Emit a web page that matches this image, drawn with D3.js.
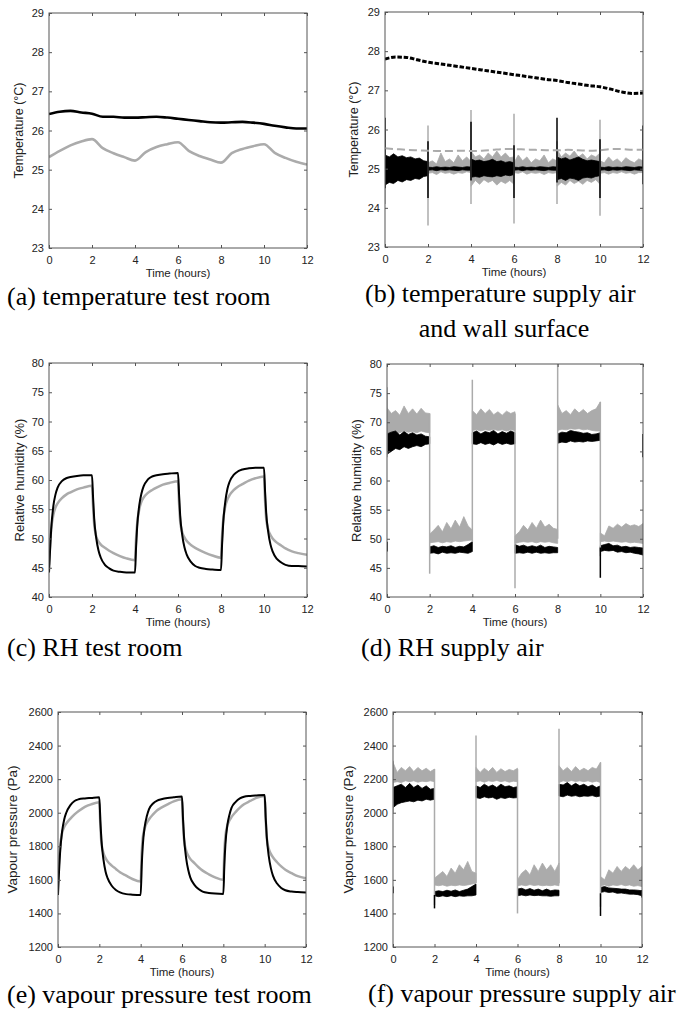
<!DOCTYPE html>
<html>
<head>
<meta charset="utf-8">
<script src="https://cdn.jsdelivr.net/npm/d3@7"></script>
<style>
  body { margin: 0; background: #fff; }
  .tick text { font-family: "Liberation Sans", Arial, sans-serif; font-size: 11px; fill: #222; }
  .axis-label { font-family: "Liberation Sans", Arial, sans-serif; fill: #222; }
  .caption { font-family: "Liberation Serif", "Times New Roman", serif; font-size: 26px; fill: #000; }
</style>
</head>
<body>
<svg id="fig" width="688" height="1009"></svg>
<script>
// ---- shared axis values
const xTicks = [0, 2, 4, 6, 8, 10, 12]
const tempTicks = [23, 24, 25, 26, 27, 28, 29]
const rhTicks = [40, 45, 50, 55, 60, 65, 70, 75, 80]
const vpTicks = [1200, 1400, 1600, 1800, 2000, 2200, 2400, 2600]

// ---- (a) temperature test room, every half hour
const halfHours = [0, 0.5, 1, 1.5, 2, 2.5, 3, 3.5, 4, 4.5, 5, 5.5, 6, 6.5, 7, 7.5, 8, 8.5, 9, 9.5, 10, 10.5, 11, 11.5, 12]
const roomTempBlack = [26.42, 26.48, 26.5, 26.46, 26.43, 26.35, 26.35, 26.33, 26.33, 26.34, 26.35, 26.33, 26.3, 26.27, 26.24, 26.21, 26.2, 26.21, 26.22, 26.2, 26.17, 26.12, 26.08, 26.05, 26.05]
const roomTempGray = [25.32, 25.48, 25.62, 25.72, 25.78, 25.55, 25.42, 25.32, 25.23, 25.45, 25.58, 25.65, 25.7, 25.48, 25.35, 25.26, 25.18, 25.42, 25.53, 25.6, 25.65, 25.43, 25.3, 25.2, 25.13]

// ---- (b) wall surface (dashed) lines
const wallBlack = [27.8, 27.85, 27.84, 27.78, 27.72, 27.68, 27.64, 27.6, 27.56, 27.52, 27.48, 27.44, 27.4, 27.36, 27.32, 27.28, 27.25, 27.2, 27.16, 27.12, 27.09, 27.03, 26.96, 26.92, 26.93]
const wallGray = [25.52, 25.5, 25.48, 25.47, 25.46, 25.45, 25.45, 25.46, 25.45, 25.46, 25.48, 25.5, 25.5, 25.49, 25.48, 25.47, 25.47, 25.48, 25.47, 25.46, 25.47, 25.5, 25.5, 25.48, 25.48]

// ---- noisy supply signals: one band per 2 h phase
const phaseStarts = [0, 2, 4, 6, 8, 10]
const phaseOffsets = [0, 0.2, 0.4, 0.6, 0.8, 1, 1.2, 1.4, 1.6, 1.8, 2]

const supTempGrayHi = [
  [25.25, 25.22, 25.28, 25.22, 25.25, 25.2, 25.22, 25.18, 25.2, 25.15, 25.14],
  [25.15, 25.2, 25.12, 25.4, 25.18, 25.25, 25.15, 25.35, 25.2, 25.3, 25.18],
  [25.45, 25.3, 25.35, 25.25, 25.4, 25.3, 25.45, 25.3, 25.4, 25.28, 25.3],
  [25.15, 25.35, 25.2, 25.3, 25.15, 25.25, 25.2, 25.35, 25.15, 25.25, 25.2],
  [25.5, 25.3, 25.4, 25.32, 25.45, 25.3, 25.38, 25.25, 25.35, 25.3, 25.4],
  [25.2, 25.15, 25.3, 25.18, 25.25, 25.15, 25.28, 25.2, 25.15, 25.25, 25.2]]
const supTempGrayLo = [
  [24.66, 24.72, 24.7, 24.76, 24.74, 24.78, 24.76, 24.8, 24.8, 24.84, 24.86],
  [24.88, 24.9, 24.85, 24.92, 24.88, 24.9, 24.86, 24.9, 24.88, 24.92, 24.9],
  [24.55, 24.7, 24.6, 24.72, 24.65, 24.7, 24.58, 24.68, 24.62, 24.7, 24.6],
  [24.9, 24.88, 24.92, 24.86, 24.9, 24.88, 24.9, 24.85, 24.9, 24.88, 24.9],
  [24.55, 24.65, 24.58, 24.7, 24.62, 24.68, 24.6, 24.7, 24.65, 24.72, 24.6],
  [24.88, 24.9, 24.86, 24.9, 24.88, 24.92, 24.88, 24.9, 24.86, 24.9, 24.9]]
const supTempBlackHi = [
  [25.35, 25.3, 25.38, 25.3, 25.33, 25.28, 25.3, 25.25, 25.27, 25.2, 25.18],
  [25.04, 25.03, 25.05, 25.03, 25.04, 25.03, 25.05, 25.04, 25.03, 25.05, 25.04],
  [25.25, 25.2, 25.22, 25.18, 25.2, 25.24, 25.18, 25.2, 25.16, 25.18, 25.15],
  [25.04, 25.03, 25.05, 25.03, 25.04, 25.03, 25.05, 25.04, 25.03, 25.05, 25.04],
  [25.3, 25.25, 25.28, 25.22, 25.26, 25.3, 25.24, 25.2, 25.22, 25.2, 25.18],
  [25.04, 25.03, 25.05, 25.03, 25.04, 25.03, 25.05, 25.04, 25.03, 25.05, 25.04]]
const supTempBlackLo = [
  [24.58, 24.65, 24.62, 24.7, 24.66, 24.72, 24.7, 24.75, 24.73, 24.8, 24.82],
  [24.96, 24.97, 24.95, 24.97, 24.96, 24.97, 24.96, 24.95, 24.97, 24.96, 24.96],
  [24.78, 24.8, 24.78, 24.82, 24.8, 24.79, 24.82, 24.8, 24.84, 24.82, 24.85],
  [24.96, 24.97, 24.95, 24.97, 24.96, 24.97, 24.96, 24.95, 24.97, 24.96, 24.96],
  [24.72, 24.75, 24.7, 24.76, 24.74, 24.7, 24.76, 24.78, 24.76, 24.8, 24.82],
  [24.96, 24.97, 24.95, 24.97, 24.96, 24.97, 24.96, 24.95, 24.97, 24.96, 24.96]]
// [time, low, high]
const supTempGraySpikes = [[0, 24.1, 25.5], [2, 23.55, 26.1], [4, 24.1, 26.5], [6, 23.6, 26.4], [8, 24.1, 25.7], [10, 23.8, 26.25]]
const supTempBlackSpikes = [[0, 24.5, 26.3], [2, 24.25, 25.7], [4, 24.7, 26.2], [6, 24.25, 25.6], [8, 24.65, 26.3], [10, 24.25, 25.75], [12, 24.6, 26.1]]

// ---- (c) / (e) test room step responses
const stepHours = [0, 0.05, 0.1, 0.2, 0.3, 0.4, 0.6, 0.8, 1, 1.3, 1.6,
  2, 2.05, 2.1, 2.2, 2.3, 2.4, 2.6, 2.8, 3, 3.3, 3.6,
  4, 4.05, 4.1, 4.2, 4.3, 4.4, 4.6, 4.8, 5, 5.3, 5.6,
  6, 6.05, 6.1, 6.2, 6.3, 6.4, 6.6, 6.8, 7, 7.3, 7.6,
  8, 8.05, 8.1, 8.2, 8.3, 8.4, 8.6, 8.8, 9, 9.3, 9.6,
  10, 10.05, 10.1, 10.2, 10.3, 10.4, 10.6, 10.8, 11, 11.3, 11.6, 12]
const roomRhBlack = [44.2, 48, 51.5, 55.5, 57.5, 58.7, 59.8, 60.3, 60.5, 60.7, 60.8,
  60.8, 57, 53.5, 50, 48, 46.8, 45.5, 44.9, 44.5, 44.3, 44.2,
  44.2, 48.5, 52, 55.7, 57.7, 58.9, 60.1, 60.6, 60.8, 61, 61.1,
  61.2, 57.5, 54, 50.5, 48.5, 47.3, 46, 45.3, 45, 44.8, 44.7,
  44.6, 49, 52.5, 56.3, 58.5, 59.7, 60.9, 61.5, 61.8, 62, 62.1,
  62.1, 58, 54.5, 51, 49, 47.8, 46.5, 45.9, 45.5, 45.3, 45.3, 45.2]
const roomRhGray = [45.5, 49, 51.5, 54, 55.3, 56, 56.9, 57.5, 57.9, 58.4, 58.7,
  59, 55.5, 52.5, 50.3, 49.5, 49, 48.4, 47.9, 47.5, 47, 46.6,
  46.3, 50, 52.5, 55, 56.3, 57, 57.8, 58.3, 58.7, 59.2, 59.5,
  59.8, 56, 53, 51, 50.2, 49.6, 48.9, 48.4, 48, 47.5, 47.1,
  46.7, 50.5, 53, 55.5, 56.7, 57.4, 58.3, 58.9, 59.3, 59.9, 60.3,
  60.6, 56.5, 53.5, 51.5, 50.6, 50, 49.3, 48.8, 48.3, 47.8, 47.5, 47.2]
const roomVpBlack = [1510, 1650, 1760, 1890, 1960, 2000, 2045, 2070, 2080, 2085, 2088,
  2092, 1950, 1840, 1720, 1650, 1610, 1565, 1540, 1525, 1515, 1512,
  1510, 1680, 1800, 1920, 1980, 2020, 2055, 2072, 2080, 2088, 2092,
  2096, 1960, 1850, 1730, 1660, 1615, 1570, 1545, 1530, 1522, 1518,
  1516, 1690, 1810, 1930, 1990, 2030, 2065, 2085, 2095, 2100, 2103,
  2106, 1970, 1860, 1740, 1670, 1625, 1578, 1552, 1538, 1530, 1527, 1525]
const roomVpGray = [1590, 1720, 1800, 1880, 1915, 1935, 1965, 1990, 2010, 2035, 2050,
  2062, 1920, 1820, 1760, 1730, 1710, 1685, 1665, 1645, 1625, 1605,
  1590, 1760, 1850, 1910, 1940, 1960, 1990, 2015, 2030, 2050, 2068,
  2080, 1940, 1840, 1775, 1745, 1725, 1700, 1675, 1655, 1633, 1615,
  1600, 1770, 1860, 1925, 1955, 1975, 2005, 2030, 2050, 2070, 2088,
  2100, 1960, 1850, 1785, 1755, 1735, 1705, 1680, 1660, 1640, 1622, 1610]

// ---- (d) RH supply air
const supRhGrayHi = [
  [72.5, 71.5, 72, 71.2, 72.8, 71.5, 72.3, 71.4, 72.4, 71.6, 71.5],
  [50.8, 51.5, 52.3, 51.2, 52.8, 51.7, 53.2, 52, 53.8, 52.2, 51.5],
  [72, 71.3, 72.3, 71.5, 72.2, 71.3, 71.8, 71.2, 71.9, 71.5, 71.8],
  [50.5, 51.2, 52.3, 51.5, 52.8, 51.8, 53.2, 52, 52.5, 51.8, 51.6],
  [73, 71.5, 72, 71.3, 72.3, 71.6, 72.2, 71.5, 72, 72.3, 73.5],
  [51, 50.5, 52.2, 51.8, 52.5, 52, 52.6, 52.2, 52.4, 52.1, 52.6]]
const supRhGrayLo = [
  [64.5, 68, 68.3, 68.2, 68.5, 68.3, 68.4, 68.2, 68.5, 68.3, 68.2],
  [49.3, 49.4, 49.5, 49.3, 49.5, 49.4, 49.6, 49.5, 49.6, 49.7, 49.8],
  [68.6, 68.7, 68.5, 68.7, 68.6, 68.8, 68.6, 68.7, 68.5, 68.7, 68.6],
  [49.2, 49.4, 49.5, 49.4, 49.5, 49.3, 49.5, 49.4, 49.5, 49.3, 49.2],
  [68.6, 68.8, 68.7, 68.9, 68.8, 68.9, 68.7, 68.8, 68.6, 68.5, 68.5],
  [49.5, 49.6, 49.5, 49.6, 49.5, 49.4, 49.5, 49.3, 49.4, 49.3, 49.2]]
const supRhBlackHi = [
  [68, 68.3, 68.5, 67.8, 68.4, 67.9, 68.2, 67.8, 68, 67.6, 67.5],
  [48.6, 48.8, 48.5, 48.7, 48.6, 48.8, 48.5, 48.7, 48.6, 49, 49.5],
  [68.2, 68.5, 68, 68.4, 68.2, 68.6, 68, 68.4, 68.1, 68.5, 68.2],
  [49, 48.7, 48.9, 48.6, 48.8, 48.6, 48.9, 48.5, 48.7, 48.6, 48.5],
  [68, 68.3, 68.2, 68.6, 68.4, 68.3, 68.1, 68.2, 67.9, 68, 68.2],
  [48.8, 49, 49.2, 48.8, 48.9, 48.6, 48.7, 48.5, 48.6, 48.5, 48.4]]
const supRhBlackLo = [
  [64.5, 65, 65.5, 65.3, 65.8, 65.5, 65.8, 66, 65.8, 66.2, 66.3],
  [47.5, 47.6, 47.4, 47.7, 47.5, 47.6, 47.5, 47.7, 47.6, 47.5, 47.8],
  [66.3, 66.2, 66.5, 66.2, 66.4, 66.1, 66.5, 66.2, 66.4, 66.2, 66.3],
  [47.5, 47.6, 47.5, 47.7, 47.5, 47.7, 47.5, 47.6, 47.5, 47.6, 47.6],
  [66.4, 66.6, 66.5, 66.8, 66.6, 66.7, 66.6, 66.8, 66.7, 66.8, 66.9],
  [47.8, 48, 47.9, 48, 47.7, 47.8, 47.6, 47.7, 47.5, 47.4, 47.2]]
const supRhGraySpikes = [[0, 64, 76], [2, 44, 71.5], [4, 49.5, 77.3], [6, 41.5, 71.5], [8, 50, 80], [10, 47, 73.5]]
const supRhBlackSpikes = [[0, 47.8, 49.5], [10, 43.3, 48.5], [12, 64, 68]]

// ---- (f) vapour pressure supply air
const supVpGrayHi = [
  [2300, 2240, 2270, 2250, 2275, 2245, 2270, 2250, 2265, 2245, 2260],
  [1610, 1630, 1650, 1620, 1670, 1640, 1690, 1660, 1710, 1650, 1640],
  [2270, 2240, 2265, 2245, 2270, 2240, 2262, 2245, 2258, 2250, 2265],
  [1600, 1640, 1660, 1630, 1690, 1650, 1700, 1660, 1690, 1650, 1700],
  [2280, 2250, 2270, 2245, 2275, 2250, 2265, 2250, 2270, 2260, 2300],
  [1620, 1600, 1660, 1640, 1680, 1650, 1680, 1660, 1690, 1660, 1680]]
const supVpGrayLo = [
  [2180, 2185, 2180, 2190, 2185, 2190, 2182, 2188, 2185, 2190, 2185],
  [1570, 1565, 1570, 1562, 1568, 1565, 1570, 1566, 1570, 1575, 1580],
  [2185, 2190, 2182, 2190, 2186, 2192, 2185, 2190, 2182, 2188, 2185],
  [1565, 1570, 1565, 1572, 1566, 1570, 1565, 1568, 1565, 1570, 1565],
  [2180, 2190, 2185, 2192, 2186, 2190, 2185, 2190, 2182, 2188, 2180],
  [1565, 1570, 1562, 1570, 1566, 1572, 1565, 1570, 1562, 1566, 1560]]
const supVpBlackHi = [
  [2150, 2160, 2170, 2150, 2175, 2150, 2165, 2145, 2160, 2140, 2145],
  [1530, 1535, 1530, 1538, 1532, 1540, 1530, 1538, 1545, 1560, 1575],
  [2160, 2150, 2170, 2155, 2165, 2150, 2170, 2155, 2160, 2150, 2155],
  [1545, 1550, 1540, 1548, 1538, 1545, 1535, 1545, 1535, 1540, 1538],
  [2170, 2165, 2180, 2160, 2175, 2160, 2170, 2155, 2165, 2150, 2160],
  [1555, 1560, 1552, 1550, 1548, 1545, 1545, 1540, 1540, 1538, 1535]]
const supVpBlackLo = [
  [2030, 2050, 2060, 2065, 2070, 2065, 2075, 2070, 2080, 2075, 2080],
  [1505, 1500, 1505, 1500, 1506, 1500, 1505, 1502, 1505, 1505, 1510],
  [2090, 2085, 2095, 2088, 2092, 2080, 2090, 2085, 2092, 2088, 2090],
  [1505, 1510, 1505, 1510, 1506, 1508, 1505, 1505, 1502, 1505, 1505],
  [2100, 2095, 2105, 2098, 2102, 2095, 2100, 2098, 2102, 2095, 2100],
  [1525, 1530, 1525, 1528, 1520, 1522, 1518, 1515, 1515, 1512, 1505]]
const supVpGraySpikes = [[0, 2000, 2310], [2, 1450, 2260], [4, 1580, 2460], [6, 1400, 2260], [8, 1580, 2500], [10, 1440, 2300]]
const supVpBlackSpikes = [[0, 1520, 1560], [2, 1430, 1510], [10, 1385, 1520], [12, 1495, 1540]]

const BLACK = '#000'
const GRAY = '#ababab'

const svg = d3.select('#fig')
const fmt = d3.format('d')

function panel(id, box, yDomain, yTicks, yLabel, labelSize, labelX) {
  const x = d3.scaleLinear().domain([0, 12]).range([box.left, box.right])
  const y = d3.scaleLinear().domain(yDomain).range([box.bottom, box.top])
  const g = svg.append('g').attr('class', 'panel-' + id)

  g.append('clipPath').attr('id', 'clip-' + id)
    .append('rect')
    .attr('x', box.left).attr('y', box.top)
    .attr('width', box.right - box.left).attr('height', box.bottom - box.top)

  const plot = g.append('g').attr('clip-path', `url(#clip-${id})`)
  const axes = g.append('g')

  axes.append('g')
    .attr('transform', `translate(0,${box.bottom})`)
    .call(d3.axisBottom(x).tickValues(xTicks).tickSize(-3).tickPadding(8.5).tickFormat(fmt))
  axes.append('g')
    .attr('transform', `translate(0,${box.top})`)
    .call(d3.axisTop(x).tickValues(xTicks).tickSize(-3).tickFormat(''))
  axes.append('g')
    .attr('transform', `translate(${box.left},0)`)
    .call(d3.axisLeft(y).tickValues(yTicks).tickSize(-3).tickPadding(5).tickFormat(fmt))
  axes.append('g')
    .attr('transform', `translate(${box.right},0)`)
    .call(d3.axisRight(y).tickValues(yTicks).tickSize(-3).tickFormat(''))
  axes.selectAll('.domain').remove()
  axes.selectAll('.tick line').attr('stroke', '#555')

  axes.append('rect')
    .attr('x', box.left).attr('y', box.top)
    .attr('width', box.right - box.left).attr('height', box.bottom - box.top)
    .attr('fill', 'none').attr('stroke', '#555').attr('stroke-width', 1)

  axes.append('text')
    .attr('class', 'axis-label')
    .attr('x', (box.left + box.right) / 2)
    .attr('y', box.bottom + 29)
    .attr('text-anchor', 'middle')
    .style('font-size', '11.5px')
    .text('Time (hours)')

  axes.append('text')
    .attr('class', 'axis-label')
    .attr('transform', `translate(${labelX},${(box.top + box.bottom) / 2}) rotate(-90)`)
    .attr('text-anchor', 'middle')
    .attr('dy', '0.35em')
    .style('font-size', labelSize + 'px')
    .text(yLabel)

  return { x, y, plot }
}

function drawLine(p, times, values, color, width, dash) {
  const line = d3.line()
    .x(d => p.x(d[0]))
    .y(d => p.y(d[1]))
    .curve(d3.curveMonotoneX)
  p.plot.append('path')
    .datum(d3.zip(times, values))
    .attr('d', line)
    .attr('fill', 'none')
    .attr('stroke', color)
    .attr('stroke-width', width)
    .attr('stroke-dasharray', dash || null)
    .attr('stroke-linejoin', 'round')
}

function drawBand(p, lo, hi, color) {
  const area = d3.area()
    .x(d => p.x(d[0]))
    .y0(d => p.y(d[1]))
    .y1(d => p.y(d[2]))
  phaseStarts.forEach((start, k) => {
    const pts = phaseOffsets.map((o, j) => [start + o, lo[k][j], hi[k][j]])
    p.plot.append('path')
      .datum(pts)
      .attr('d', area)
      .attr('fill', color)
      .attr('stroke', color)
      .attr('stroke-width', 0.8)
  })
}

function drawSpikes(p, spikes, color, width) {
  p.plot.append('g').selectAll('line')
    .data(spikes)
    .join('line')
    .attr('x1', d => p.x(d[0]))
    .attr('x2', d => p.x(d[0]))
    .attr('y1', d => p.y(d[1]))
    .attr('y2', d => p.y(d[2]))
    .attr('stroke', color)
    .attr('stroke-width', width)
}

function caption(lines, x, y, anchor) {
  svg.append('text')
    .attr('class', 'caption')
    .attr('x', x).attr('y', y)
    .attr('text-anchor', anchor || 'start')
    .text(lines)
}

// (a)
const pa = panel('a', {left: 49, right: 307, top: 13, bottom: 248}, [23, 29], tempTicks, 'Temperature (°C)', 12.5, 19)
drawLine(pa, halfHours, roomTempGray, GRAY, 2.6)
drawLine(pa, halfHours, roomTempBlack, BLACK, 2.6)

// (b)
const pb = panel('b', {left: 385, right: 643, top: 12, bottom: 247}, [23, 29], tempTicks, 'Temperature (°C)', 12.5, 354)
drawBand(pb, supTempGrayLo, supTempGrayHi, GRAY)
drawBand(pb, supTempBlackLo, supTempBlackHi, BLACK)
drawSpikes(pb, supTempGraySpikes, GRAY, 1.5)
drawSpikes(pb, supTempBlackSpikes, BLACK, 1.5)
drawLine(pb, halfHours, wallGray, GRAY, 2, '8,4')
drawLine(pb, halfHours, wallBlack, BLACK, 3, '4.5,1.8')

// (c)
const pc = panel('c', {left: 49, right: 307, top: 363, bottom: 597}, [40, 80], rhTicks, 'Relative humidity (%)', 13, 19)
drawLine(pc, stepHours, roomRhGray, GRAY, 2.5)
drawLine(pc, stepHours, roomRhBlack, BLACK, 2)

// (d)
const pd = panel('d', {left: 387, right: 643, top: 364, bottom: 597}, [40, 80], rhTicks, 'Relative humidity (%)', 13, 356)
drawBand(pd, supRhGrayLo, supRhGrayHi, GRAY)
drawBand(pd, supRhBlackLo, supRhBlackHi, BLACK)
drawSpikes(pd, supRhGraySpikes, GRAY, 1.5)
drawSpikes(pd, supRhBlackSpikes, BLACK, 1.5)

// (e)
const pe = panel('e', {left: 58, right: 306, top: 712, bottom: 947}, [1200, 2600], vpTicks, 'Vapour pressure (Pa)', 13.5, 12)
drawLine(pe, stepHours, roomVpGray, GRAY, 2.5)
drawLine(pe, stepHours, roomVpBlack, BLACK, 2)

// (f)
const pf = panel('f', {left: 393, right: 642, top: 712, bottom: 947}, [1200, 2600], vpTicks, 'Vapour pressure (Pa)', 13.5, 348)
drawBand(pf, supVpGrayLo, supVpGrayHi, GRAY)
drawBand(pf, supVpBlackLo, supVpBlackHi, BLACK)
drawSpikes(pf, supVpGraySpikes, GRAY, 1.5)
drawSpikes(pf, supVpBlackSpikes, BLACK, 1.5)

// captions
caption('(a) temperature test room', 7, 305)
caption('(b) temperature supply air', 365, 302)
caption('and wall surface', 504, 337, 'middle')
caption('(c) RH test room', 7, 656)
caption('(d) RH supply air', 361, 656)
caption('(e) vapour pressure test room', 7, 1003)
caption('(f) vapour pressure supply air', 368, 1002)
</script>
</body>
</html>
